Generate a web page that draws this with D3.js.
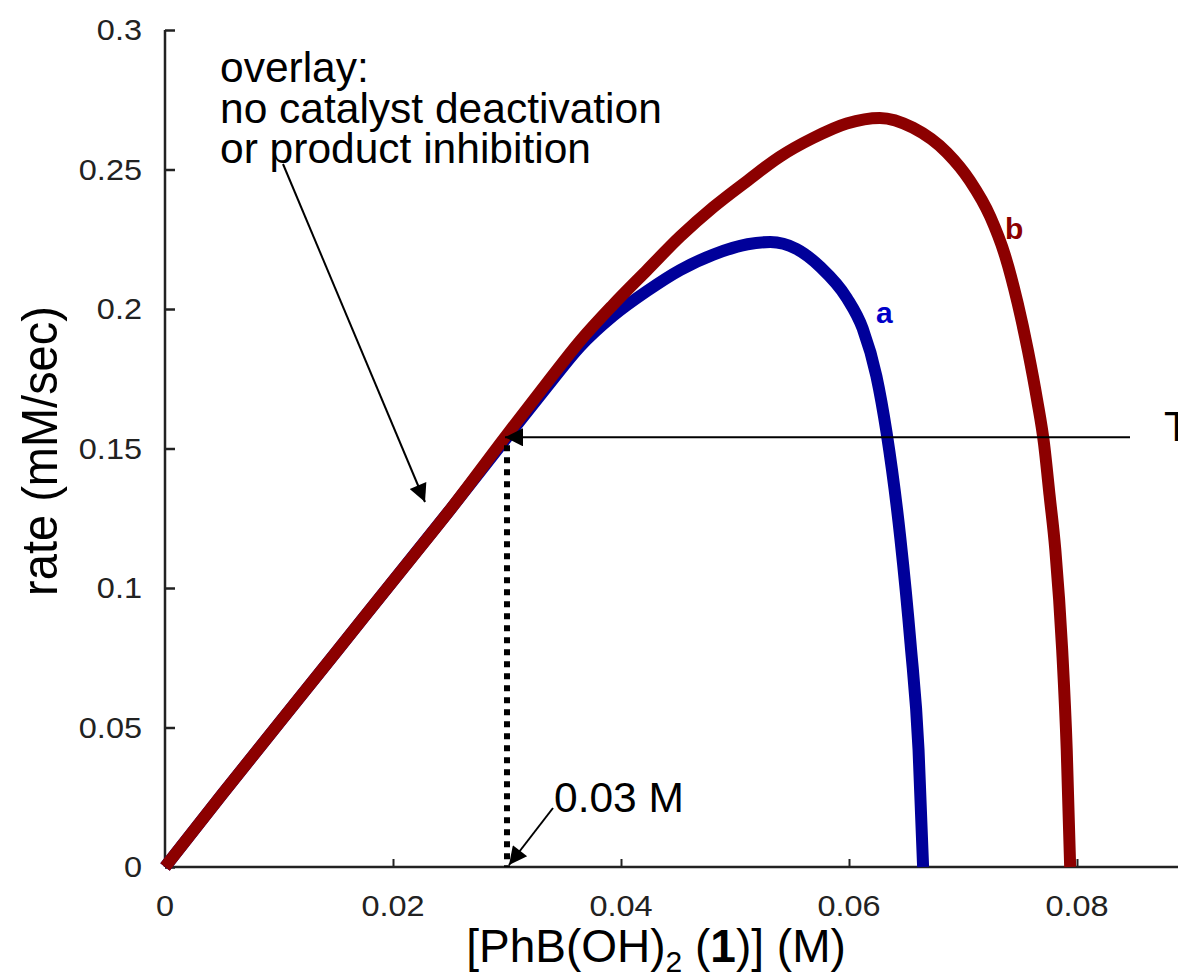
<!DOCTYPE html>
<html>
<head>
<meta charset="utf-8">
<script src="https://cdn.jsdelivr.net/npm/d3@7"></script>
<style>
    body { margin: 0; background: #fff; }
    svg { display: block; font-family: "Liberation Sans", Arial, Helvetica, sans-serif; }
</style>
</head>
<body>
<div id="content"></div>
<script>
'use strict';

// [PhB(OH)2] (M) / rate (mM/sec)
var riseX = [0, 0.005, 0.01, 0.015, 0.02, 0.025]
var riseY = [0, 0.026, 0.0515, 0.077, 0.1025, 0.128]

var aX = [0.030, 0.0335, 0.0364, 0.0393, 0.0423, 0.0452, 0.0481, 0.0511, 0.0531, 0.0554, 0.0575, 0.0598,
    0.0612, 0.0624, 0.0633, 0.0645, 0.0654, 0.0661, 0.0665]
var aY = [0.154, 0.172, 0.1865, 0.1975, 0.2065, 0.2140, 0.2195, 0.2232, 0.2240, 0.2215, 0.2150, 0.2040,
    0.1930, 0.1760, 0.1556, 0.1180, 0.0800, 0.0420, 0]

var bX = [0.030, 0.0335, 0.0364, 0.0393, 0.0423, 0.0452, 0.0481, 0.0511, 0.0539, 0.0568, 0.0598, 0.0627,
    0.0656, 0.0686, 0.0706, 0.0724, 0.0737, 0.0748, 0.0757, 0.0765, 0.0771, 0.0776, 0.0781, 0.0787, 0.0791, 0.0794]
var bY = [0.155, 0.1735, 0.1885, 0.2015, 0.2140, 0.2260, 0.2365, 0.2460, 0.2545, 0.2612, 0.2665, 0.2685,
    0.2650, 0.2560, 0.2460, 0.2330, 0.2190, 0.2020, 0.1850, 0.1674, 0.1520, 0.1330, 0.1136, 0.0778, 0.0419, 0]

var xTicks = [0, 0.02, 0.04, 0.06, 0.08]
var yTicks = [0, 0.05, 0.1, 0.15, 0.2, 0.25, 0.3]
var markX = 0.03 // dotted guide
var markY = 0.154 // horizontal arrow level

var width = 1178
var height = 979
var stretch = 1.12 // original figure glyphs look widened

var x = d3.scaleLinear().domain([0, 0.08]).range([165, 1077])
var y = d3.scaleLinear().domain([0, 0.3]).range([867, 30])

var svg = d3.select('#content').append('svg').attr('width', width).attr('height', height)

var defs = svg.append('defs')
defs.append('marker').attr('id', 'head')
    .attr('viewBox', '0 0 10 10').attr('refX', 10).attr('refY', 5)
    .attr('markerWidth', 22).attr('markerHeight', 18).attr('markerUnits', 'userSpaceOnUse')
    .attr('orient', 'auto')
    .append('path').attr('d', 'M0,0L10,5L0,10Z').attr('fill', '#000')

function zipPts(xs, ys) {
    return xs.map(function(v, i) { return [v, ys[i]] })
}
var seriesA = zipPts(riseX, riseY).concat(zipPts(aX, aY))
var seriesB = zipPts(riseX, riseY).concat(zipPts(bX, bY))

// axes
var yAxis = d3.axisRight(y).tickValues(yTicks).tickSize(10).tickFormat('')
var gy = svg.append('g').attr('transform', 'translate(' + x(0) + ',0)').call(yAxis)
gy.select('.domain').attr('stroke', '#222').attr('stroke-width', 2.5).attr('d', 'M0,' + y(0.3) + 'V' + y(0))
gy.selectAll('.tick line').attr('stroke', '#222').attr('stroke-width', 2.5)

var xAxis = d3.axisTop(x).tickValues(xTicks.slice(1)).tickSize(8).tickFormat('')
var gx = svg.append('g').attr('transform', 'translate(0,' + y(0) + ')').call(xAxis)
gx.select('.domain').attr('stroke', '#222').attr('stroke-width', 2.5).attr('d', 'M' + x(0) + ',0H' + width)
gx.selectAll('.tick line').attr('stroke', '#222').attr('stroke-width', 2)

svg.append('g').selectAll('text').data(yTicks).enter().append('text')
    .attr('transform', function(d) { return 'translate(142,' + (y(d) + 10) + ') scale(' + stretch + ',1)' })
    .attr('text-anchor', 'end').attr('font-size', 29).attr('fill', '#222')
    .text(function(d) { return d3.format('')(d) })

svg.append('g').selectAll('text').data(xTicks).enter().append('text')
    .attr('transform', function(d) { return 'translate(' + x(d) + ',916) scale(' + stretch + ',1)' })
    .attr('text-anchor', 'middle').attr('font-size', 29).attr('fill', '#222')
    .text(function(d) { return d3.format('')(d) })

// axis titles
svg.append('text')
    .attr('transform', 'translate(57,451) scale(1.08,1) rotate(-90)')
    .attr('text-anchor', 'middle').attr('font-size', 47)
    .text('rate (mM/sec)')

var xt = svg.append('text').attr('x', 656).attr('y', 962).attr('text-anchor', 'middle').attr('font-size', 46)
xt.append('tspan').text('[PhB(OH)')
xt.append('tspan').attr('font-size', 30).attr('dy', 10).text('2')
xt.append('tspan').attr('dy', -10).text(' (')
xt.append('tspan').attr('font-weight', 'bold').text('1')
xt.append('tspan').text(')] (M)')

// curves
var line = d3.line()
    .x(function(d) { return x(d[0]) })
    .y(function(d) { return y(d[1]) })
    .curve(d3.curveMonotoneX)

svg.append('path').datum(seriesA).attr('d', line)
    .attr('fill', 'none').attr('stroke', '#00009a').attr('stroke-width', 12)
svg.append('path').datum(seriesB).attr('d', line)
    .attr('fill', 'none').attr('stroke', '#8c0000').attr('stroke-width', 12)

svg.append('text').attr('x', 876).attr('y', 323).attr('font-size', 30).attr('font-weight', 'bold')
    .attr('fill', '#0000c8').text('a')
svg.append('text').attr('x', 1005).attr('y', 239).attr('font-size', 30).attr('font-weight', 'bold')
    .attr('fill', '#8c0000').text('b')

// annotations
svg.append('line')
    .attr('x1', x(markX)).attr('x2', x(markX)).attr('y1', y(markY) + 8).attr('y2', y(0))
    .attr('stroke', '#000').attr('stroke-width', 6).attr('stroke-dasharray', '6,6')

svg.append('line')
    .attr('x1', 1130).attr('y1', y(markY)).attr('x2', x(markX) - 2).attr('y2', y(markY))
    .attr('stroke', '#000').attr('stroke-width', 2).attr('marker-end', 'url(#head)')
svg.append('text').attr('x', 1164).attr('y', y(markY) + 4).attr('font-size', 42).text('T')

svg.append('line')
    .attr('x1', 283).attr('y1', 164).attr('x2', 425).attr('y2', 502)
    .attr('stroke', '#000').attr('stroke-width', 2).attr('marker-end', 'url(#head)')

var note = svg.append('text').attr('font-size', 42.5)
var noteLines = ['overlay:', 'no catalyst deactivation', 'or product inhibition']
noteLines.forEach(function(s, i) {
    note.append('tspan').attr('x', 220).attr('y', 82 + i * 40.5).text(s)
})

svg.append('line')
    .attr('x1', 553).attr('y1', 808).attr('x2', x(markX) + 2).attr('y2', y(0) - 2)
    .attr('stroke', '#000').attr('stroke-width', 2).attr('marker-end', 'url(#head)')
svg.append('text').attr('x', 554).attr('y', 812).attr('font-size', 42.5).text('0.03 M')
</script>
</body>
</html>
